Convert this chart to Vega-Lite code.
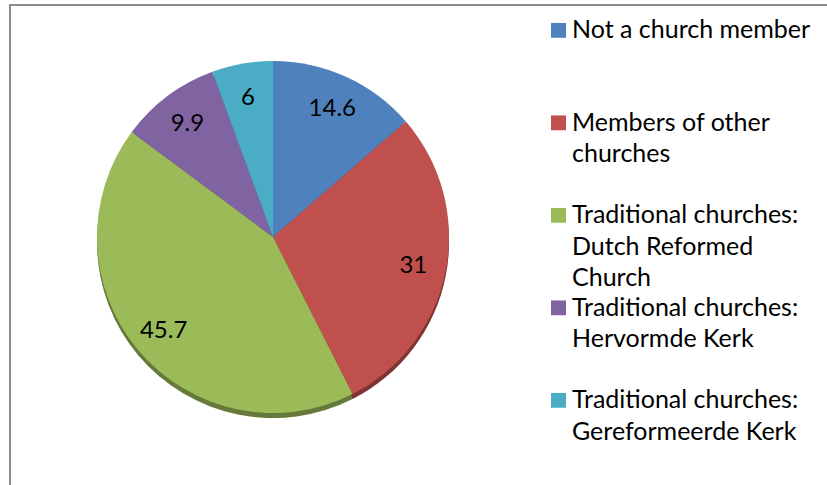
{
  "$schema": "https://vega.github.io/schema/vega-lite/v6.json",
  "width": 820,
  "height": 483,
  "autosize": "none",
  "padding": {"left": 10, "top": 5, "right": -3, "bottom": -3},
  "background": "white",
  "view": {"stroke": "#8c8c8c", "strokeWidth": 2},
  "config": {
    "view": {"stroke": "#8c8c8c", "strokeWidth": 2},
    "style": {
      "view": {"stroke": "#8c8c8c", "strokeWidth": 2},
      "guide-label": {"dy": -12, "lineHeight": 31.5}
    },
    "font": "Lato"
  },
  "data": {
    "values": [
      {"category": "Not a church member", "share": 14.6, "rank": 1},
      {"category": "Members of other churches", "share": 31, "rank": 2},
      {"category": "Traditional churches: Dutch Reformed Church", "share": 45.7, "rank": 3},
      {"category": "Traditional churches: Hervormde Kerk", "share": 9.9, "rank": 4},
      {"category": "Traditional churches: Gereformeerde Kerk", "share": 6, "rank": 5}
    ]
  },
  "encoding": {
    "theta": {"field": "share", "type": "quantitative", "stack": true},
    "order": {"field": "rank", "type": "quantitative", "sort": "ascending"},
    "color": {
      "field": "category",
      "type": "nominal",
      "sort": [
        "Not a church member",
        "Members of other churches",
        "Traditional churches: Dutch Reformed Church",
        "Traditional churches: Hervormde Kerk",
        "Traditional churches: Gereformeerde Kerk"
      ],
      "scale": {
        "domain": [
          "Not a church member",
          "Members of other churches",
          "Traditional churches: Dutch Reformed Church",
          "Traditional churches: Hervormde Kerk",
          "Traditional churches: Gereformeerde Kerk"
        ],
        "range": ["#4f81bd", "#c0504d", "#9bbb59", "#8064a2", "#4bacc6"]
      },
      "legend": {
        "title": null,
        "orient": "none",
        "legendX": 536,
        "legendY": 17.7,
        "padding": 0,
        "symbolType": "square",
        "symbolSize": 225,
        "symbolStrokeWidth": 0,
        "symbolOpacity": 1,
        "labelFont": "Lato",
        "labelFontSize": 25,
        "labelColor": "black",
        "labelOffset": 1,
        "labelLimit": 320,
        "labelBaseline": "top",
        "clipHeight": 15,
        "rowPadding": 3.5,
        "labelExpr": "datum.label == 'Not a church member' ? ['Not a church member', '', ''] : datum.label == 'Members of other churches' ? ['Members of other', 'churches', ''] : datum.label == 'Traditional churches: Dutch Reformed Church' ? ['Traditional churches:', 'Dutch Reformed', 'Church'] : datum.label == 'Traditional churches: Hervormde Kerk' ? ['Traditional churches:', 'Hervormde Kerk', ''] : ['Traditional churches:', 'Gereformeerde Kerk', '']"
      }
    }
  },
  "layer": [
    {
      "mark": {"type": "arc", "x": 263, "y": 237, "radius": 176}
    },
    {
      "mark": {"type": "arc", "x": 263, "y": 237, "radius": 176, "opacity": 0.35},
      "encoding": {"fill": {"value": "black"}}
    },
    {
      "mark": {"type": "arc", "x": 263, "y": 232, "radius": 176}
    },
    {
      "mark": {"type": "text", "x": 263, "y": 234, "radius": 143, "fontSize": 24, "font": "Lato"},
      "encoding": {
        "text": {"field": "share", "type": "quantitative"},
        "fill": {"value": "black"}
      }
    }
  ]
}
